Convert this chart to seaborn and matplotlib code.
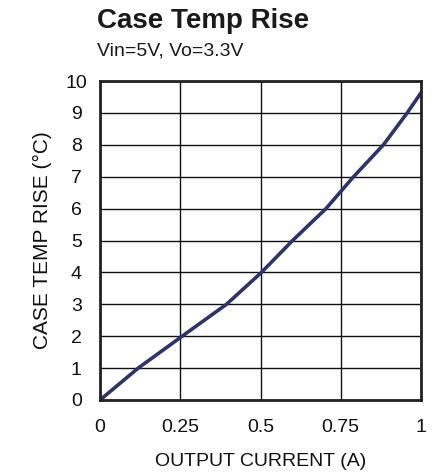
import matplotlib
matplotlib.use("Agg")
import matplotlib.pyplot as plt
import seaborn as sns
import pandas as pd

current = [0.0, 0.119, 0.256, 0.394, 0.503, 0.600, 0.704, 0.790, 0.883, 0.957, 1.0]
temp_rise = [0.0, 1.0, 2.0, 3.0, 4.0, 5.0, 6.0, 7.0, 8.0, 9.0, 9.63]
x_ticks = [0, 0.25, 0.5, 0.75, 1]
x_tick_labels = ["0", "0.25", "0.5", "0.75", "1"]
y_ticks = list(range(0, 11))

sns.set_style("white")
plt.rcParams['font.family'] = ['Liberation Sans', 'DejaVu Sans']

df = pd.DataFrame({"current": current, "temp": temp_rise})

fig = plt.figure(figsize=(4.35, 4.76), dpi=100)
ax = fig.add_axes([100/435, 1-400/476, 321/435, 319/476])

sns.lineplot(data=df, x="current", y="temp", ax=ax, color="#2e3468", linewidth=2.6)

ax.set_xlim(0, 1)
ax.set_ylim(0, 10)
ax.set_xticks(x_ticks)
ax.set_xticklabels(x_tick_labels)
ax.set_yticks(y_ticks)
ax.grid(True, color="#111111", linewidth=1.0)
ax.set_axisbelow(True)
for s in ax.spines.values():
    s.set_visible(True)
    s.set_color("#222222")
    s.set_linewidth(2.0)
ax.tick_params(axis="both", length=0, labelsize=14, colors="#111111")
ax.tick_params(axis="x", pad=14)
ax.tick_params(axis="y", pad=17)
for lbl in ax.get_yticklabels():
    lbl.set_horizontalalignment("center")
ax.set_xlabel("OUTPUT CURRENT (A)", fontsize=14, color="#111111", labelpad=12)
ax.set_ylabel("CASE TEMP RISE (°C)", fontsize=15, color="#111111", labelpad=10)

fig.text(97/435, 1-28/476, "Case Temp Rise", fontsize=20, fontweight="bold", color="#1a1a1a", ha="left", va="baseline")
fig.text(97/435, 1-55/476, "Vin=5V, Vo=3.3V", fontsize=14, color="#1a1a1a", ha="left", va="baseline")

fig.savefig("out.png", dpi=100)
